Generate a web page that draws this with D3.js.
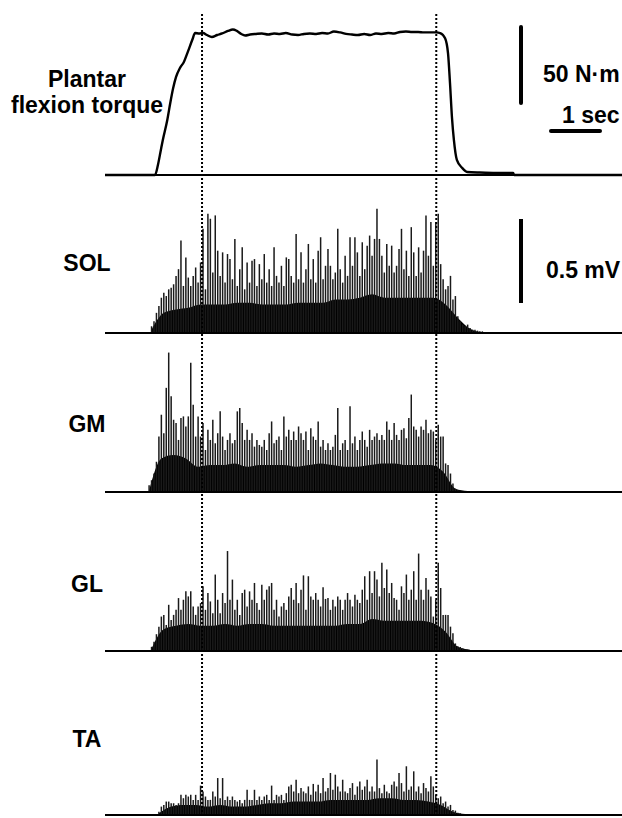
<!DOCTYPE html>
<html>
<head>
<meta charset="utf-8">
<script src="https://cdn.jsdelivr.net/npm/d3@7"></script>
<style>
  body { margin: 0; background: #fff; }
  text { font-family: "Liberation Sans", Arial, sans-serif; font-weight: bold; font-size: 23px; fill: #000; }
</style>
</head>
<body>
<svg id="chart" width="622" height="818"></svg>
<script>
// torque trace, [time (s), N·m]
var torque = [
  [0, 0], [1.00, 0], [1.02, 0], [1.08, 6.6], [1.14, 16.5], [1.18, 23], [1.27, 36], [1.33, 47],
  [1.39, 57], [1.45, 64.5], [1.53, 70.4], [1.61, 74.4], [1.69, 81], [1.78, 88.8], [1.84, 93.4],
  [1.92, 93.1], [2.00, 93.4], [2.08, 92.1], [2.18, 90.8], [2.29, 92.1], [2.39, 93.1], [2.51, 94.8],
  [2.61, 95.7], [2.69, 94.8], [2.78, 92.8], [2.86, 91.8], [2.96, 92.4], [3.08, 92.8], [3.20, 93.1],
  [3.33, 92.4], [3.45, 93.1], [3.57, 92.8], [3.69, 93.4], [3.82, 92.4], [3.94, 92.1], [4.06, 92.8],
  [4.18, 93.1], [4.31, 92.8], [4.43, 93.4], [4.55, 93.1], [4.67, 94.4], [4.80, 93.8], [4.92, 92.8],
  [5.04, 92.4], [5.16, 92.1], [5.29, 92.8], [5.41, 92.1], [5.53, 93.1], [5.65, 92.8], [5.78, 93.4],
  [5.90, 93.1], [6.02, 94.1], [6.14, 94.4], [6.27, 94.1], [6.39, 94.1], [6.51, 93.8], [6.63, 93.8],
  [6.76, 93.8], [6.84, 93.4], [6.94, 90], [7.00, 80], [7.04, 60.5], [7.08, 38], [7.12, 23],
  [7.18, 10], [7.29, 4.6], [7.39, 2], [7.65, 1.6], [8.00, 1.4], [8.33, 1.3], [8.35, 0], [10.55, 0]
];

// EMG (rectified, µV), spikes every 0.05 s, body every 0.25 s
var solSpikes = [40,70,120,160,210,240,220,260,270,290,
  340,380,550,280,450,330,280,340,390,300,
  420,620,260,710,680,360,700,490,340,480,
  300,470,440,320,560,280,380,510,260,420,
  300,430,440,280,410,320,470,300,380,280,
  510,340,300,400,280,450,440,340,300,590,
  320,480,300,380,530,320,440,300,490,570,
  320,400,500,400,320,360,620,380,300,460,
  340,570,400,570,480,340,540,380,520,580,
  460,560,740,560,460,360,530,400,520,360,
  400,500,620,380,490,340,630,480,340,510,
  360,490,700,460,660,400,660,710,410,320,
  260,280,340,200,220,100,70,50,40,50,
  30,20,20,14,10,10];
var solBody = [20,120,140,150,170,170,170,180,180,170,170,170,180,180,180,200,200,210,230,210,210,210,210,210,170,90,25,4];

var gmSpikes = [40,70,110,180,330,460,350,620,830,570,
  430,410,310,440,450,390,450,770,520,330,
  450,330,410,250,370,310,430,290,350,480,
  330,250,310,350,290,310,480,500,410,310,
  370,310,350,270,310,280,270,310,250,350,
  420,290,310,330,250,450,330,370,310,360,
  310,390,350,310,360,250,380,330,310,420,
  270,310,250,290,250,270,340,500,250,290,
  310,250,510,290,330,250,310,360,310,270,
  370,310,330,350,310,340,310,420,370,310,
  410,340,310,370,380,320,440,580,390,370,
  330,390,370,430,350,370,360,310,400,330,
  330,170,160,110,50,20,10,10,6,6];
var gmBody = [10,200,220,200,150,160,160,170,150,160,160,160,150,160,170,160,150,150,160,170,170,160,160,160,120,20,6];

var glSpikes = [25,55,100,145,205,215,155,275,185,215,
  245,315,245,305,355,325,355,265,215,265,
  285,385,245,345,295,225,455,305,225,345,
  285,595,305,425,245,305,215,345,365,265,
  355,305,405,285,245,395,305,365,385,405,
  245,305,205,265,285,245,325,375,305,405,
  285,365,450,245,445,325,305,345,305,265,
  380,310,315,245,305,265,325,305,245,305,
  345,305,265,335,305,285,365,445,305,475,
  345,475,425,325,525,375,485,345,405,315,
  305,245,385,345,455,305,365,475,305,580,
  365,305,435,365,325,205,305,525,375,215,
  215,215,145,105,45,28,24,16,10,8];
var glBody = [15,130,150,160,150,150,160,150,160,160,150,150,150,150,150,150,160,160,190,180,180,180,180,165,115,25,8];

var taSpikes = [20,50,60,80,80,70,70,60,70,120,
  100,120,110,120,90,120,90,175,140,110,
  90,90,140,110,220,100,220,90,110,90,
  110,90,80,90,70,90,150,90,90,150,
  90,110,90,110,120,90,175,90,120,110,
  120,90,130,170,180,140,210,130,160,140,
  130,170,120,185,140,180,130,220,140,160,
  250,150,240,170,140,210,140,130,160,190,
  120,170,200,150,170,210,140,170,140,330,
  160,130,180,140,130,180,200,170,250,190,
  140,290,150,170,260,140,170,130,190,160,
  140,230,170,120,100,110,70,80,50,60,
  30,26,14,10,6];
var taBody = [10,50,60,60,50,60,50,50,60,70,70,80,80,80,90,90,90,90,100,100,90,90,80,60,20,6];

var channelNames = ["SOL", "GM", "GL", "TA"];
var markerTimes = [1.98, 6.76];

var svg = d3.select("#chart");

var x = d3.scaleLinear().domain([0, 10.55]).range([105, 622]);
var torqueBase = 175;
var yTorque = d3.scaleLinear().domain([0, 50]).range([torqueBase, torqueBase - 76]);

// per-channel layout (baseline, label baseline, start time)
var layout = [
  {spikes: solSpikes, body: solBody, t0: 0.95, base: 333, labelY: 271},
  {spikes: gmSpikes, body: gmBody, t0: 0.90, base: 492, labelY: 432},
  {spikes: glSpikes, body: glBody, t0: 0.95, base: 651, labelY: 592},
  {spikes: taSpikes, body: taBody, t0: 1.10, base: 815, labelY: 747}
];

// torque
svg.append("line")
  .attr("x1", x(0)).attr("x2", x(10.55))
  .attr("y1", torqueBase).attr("y2", torqueBase)
  .attr("stroke", "#000").attr("stroke-width", 2);

svg.append("path")
  .datum(torque)
  .attr("fill", "none")
  .attr("stroke", "#000")
  .attr("stroke-width", 2.4)
  .attr("stroke-linejoin", "round")
  .attr("d", d3.line()
    .x(function (d) { return x(d[0]); })
    .y(function (d) { return yTorque(d[1]); })
    .curve(d3.curveMonotoneX));

svg.append("text").attr("x", 87).attr("y", 87).attr("text-anchor", "middle").text("Plantar");
svg.append("text").attr("x", 87).attr("y", 113).attr("text-anchor", "middle").text("flexion torque");

// emg channels
layout.forEach(function (ch, k) {
  var y = d3.scaleLinear().domain([0, 500]).range([ch.base, ch.base - 84]);
  var g = svg.append("g");

  g.append("path")
    .datum(ch.body)
    .attr("fill", "#000")
    .attr("d", d3.area()
      .x(function (d, i) { return x(ch.t0 + 0.25 * i); })
      .y0(ch.base)
      .y1(function (d) { return y(d); })
      .curve(d3.curveMonotoneX));

  g.selectAll("line.spike")
    .data(ch.spikes)
    .enter().append("line")
      .attr("class", "spike")
      .attr("x1", function (d, i) { return x(ch.t0 + 0.05 * i); })
      .attr("x2", function (d, i) { return x(ch.t0 + 0.05 * i); })
      .attr("y1", ch.base)
      .attr("y2", function (d) { return y(d); })
      .attr("stroke", "#1a1a1a")
      .attr("stroke-width", 1.5);

  g.append("line")
    .attr("x1", x(0)).attr("x2", x(10.55))
    .attr("y1", ch.base).attr("y2", ch.base)
    .attr("stroke", "#000").attr("stroke-width", 2);

  g.append("text")
    .attr("x", 87).attr("y", ch.labelY)
    .attr("text-anchor", "middle")
    .text(channelNames[k]);

  if (k === 0) {
    // 0.5 mV bar
    svg.append("line")
      .attr("x1", 521).attr("x2", 521)
      .attr("y1", 219).attr("y2", 219 + (y(0) - y(500)))
      .attr("stroke", "#000").attr("stroke-width", 4);
    svg.append("text").attr("x", 546).attr("y", 278).text("0.5 mV");
  }
});

// dotted markers
svg.selectAll("line.marker")
  .data(markerTimes)
  .enter().append("line")
    .attr("class", "marker")
    .attr("x1", function (d) { return x(d); })
    .attr("x2", function (d) { return x(d); })
    .attr("y1", 14).attr("y2", 818)
    .attr("stroke", "#000")
    .attr("stroke-width", 2)
    .attr("stroke-dasharray", "2,2");

// torque & time scale bars
svg.append("line")
  .attr("x1", 521).attr("x2", 521)
  .attr("y1", 27).attr("y2", 27 + (yTorque(0) - yTorque(50)))
  .attr("stroke", "#000").attr("stroke-width", 4).attr("stroke-linecap", "round");
svg.append("text").attr("x", 543).attr("y", 82).text("50 N\u00b7m");

svg.append("line")
  .attr("x1", 551).attr("x2", 551 + (x(1) - x(0)))
  .attr("y1", 131).attr("y2", 131)
  .attr("stroke", "#000").attr("stroke-width", 4).attr("stroke-linecap", "round");
svg.append("text").attr("x", 562).attr("y", 123).text("1 sec");
</script>
</body>
</html>
